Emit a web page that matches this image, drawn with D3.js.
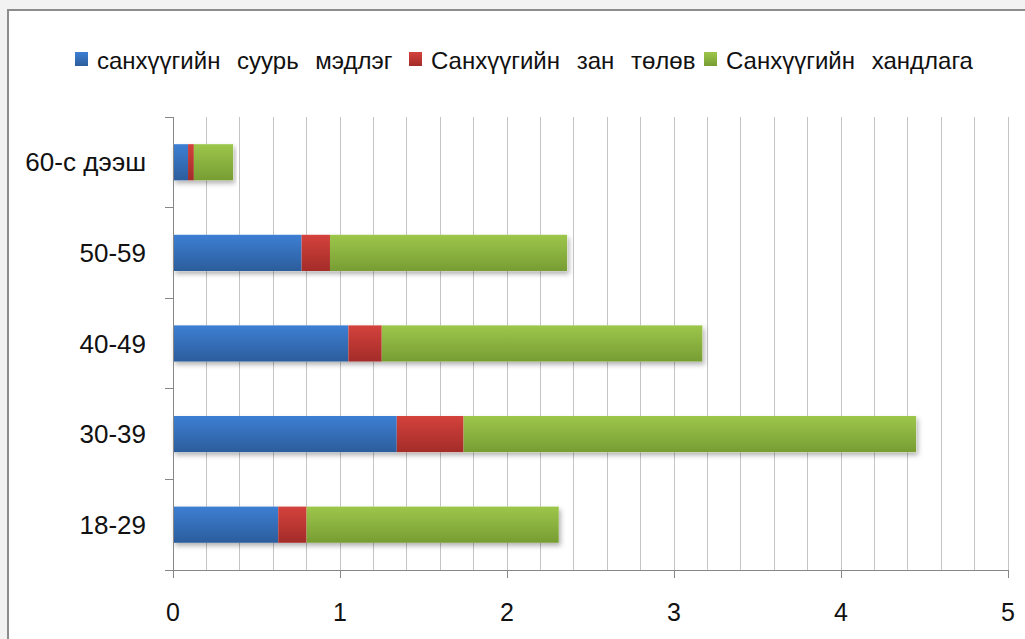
<!DOCTYPE html>
<html lang="mn">
<head>
<meta charset="utf-8">
<title>Stacked bar</title>
<script src="https://cdn.jsdelivr.net/npm/d3@7"></script>
<style>
  body { margin: 0; background: #f2f2f2; }
  svg { display: block; }
  text { font-family: "Liberation Sans", Arial, sans-serif; fill: #111; }
</style>
</head>
<body>
<script>
// data
var ageGroups = ["18-29", "30-39", "40-49", "50-59", "60-с дээш"];
var seriesNames = ["санхүүгийн суурь мэдлэг", "Санхүүгийн зан төлөв", "Санхүүгийн хандлага"];
var knowledge = [0.63, 1.34, 1.05, 0.77, 0.09];
var behaviour = [0.17, 0.40, 0.20, 0.17, 0.035];
var attitude  = [1.51, 2.71, 1.92, 1.42, 0.235];
var xTicks = [0, 1, 2, 3, 4, 5];

var colors = [
  ["#3d7fd3", "#2c5d9c"],
  ["#d4423c", "#a32c29"],
  ["#9dc64b", "#779d33"]
];

var W = 1025, H = 639;
var svg = d3.select("body").append("svg").attr("width", W).attr("height", H);

var defs = svg.append("defs");
colors.forEach(function(c, i) {
  var g = defs.append("linearGradient").attr("id", "g" + i)
    .attr("x1", 0).attr("y1", 0).attr("x2", 0).attr("y2", 1);
  g.append("stop").attr("offset", "0%").attr("stop-color", c[0]);
  g.append("stop").attr("offset", "100%").attr("stop-color", c[1]);
});
var f = defs.append("filter").attr("id", "shadow")
  .attr("x", "-5%").attr("y", "-20%").attr("width", "110%").attr("height", "160%");
f.append("feDropShadow").attr("dx", 2).attr("dy", 3).attr("stdDeviation", 2.5)
  .attr("flood-color", "#000").attr("flood-opacity", 0.3);

// chart panel
svg.append("rect").attr("x", 8).attr("y", 10).attr("width", W).attr("height", H)
  .attr("fill", "#fff").attr("stroke", "#8c8c8c").attr("stroke-width", 2);

var plotLeft = 173, plotRight = 1008, plotTop = 117, plotBottom = 570;

var x = d3.scaleLinear().domain([0, 5]).range([plotLeft, plotRight]);
var y = d3.scaleBand().domain(ageGroups.slice().reverse()).range([plotTop, plotBottom])
  .paddingInner(0.6).paddingOuter(0.3);

// gridlines every 0.2
svg.append("g").selectAll("line").data(d3.range(1, 26).map(function(d) { return d / 5; }))
  .enter().append("line")
  .attr("x1", function(d) { return x(d); }).attr("x2", function(d) { return x(d); })
  .attr("y1", plotTop).attr("y2", plotBottom)
  .attr("stroke", "#c4c4c4").attr("stroke-width", 1).attr("shape-rendering", "crispEdges");

// stacked bars
var rows = ageGroups.map(function(a, i) {
  return { age: a, s0: knowledge[i], s1: behaviour[i], s2: attitude[i] };
});
var stack = d3.stack().keys(["s0", "s1", "s2"])(rows);

var barG = svg.append("g");
rows.forEach(function(r) {
  var total = r.s0 + r.s1 + r.s2;
  barG.append("rect")
    .attr("x", x(0)).attr("y", y(r.age))
    .attr("width", x(total) - x(0)).attr("height", y.bandwidth())
    .attr("fill", "#fff").attr("filter", "url(#shadow)");
});
stack.forEach(function(layer, k) {
  barG.selectAll(".l" + k).data(layer).enter().append("rect")
    .attr("x", function(d) { return x(d[0]); })
    .attr("y", function(d) { return y(d.data.age); })
    .attr("width", function(d) { return x(d[1]) - x(d[0]); })
    .attr("height", y.bandwidth())
    .attr("fill", "url(#g" + k + ")");
});

// axes
var axisColor = "#878787";
svg.append("line").attr("x1", plotLeft).attr("x2", plotLeft).attr("y1", plotTop).attr("y2", plotBottom)
  .attr("stroke", axisColor).attr("shape-rendering", "crispEdges");
svg.append("line").attr("x1", plotLeft).attr("x2", plotRight).attr("y1", plotBottom).attr("y2", plotBottom)
  .attr("stroke", axisColor).attr("shape-rendering", "crispEdges");

// y ticks at band boundaries
var step = y.step();
var firstBound = y(ageGroups[ageGroups.length - 1]) - (step - y.bandwidth()) / 2;
var bounds = d3.range(0, 6).map(function(i) { return firstBound + i * step; });
svg.append("g").selectAll("line").data(bounds).enter().append("line")
  .attr("x1", plotLeft - 8).attr("x2", plotLeft)
  .attr("y1", function(d) { return d; }).attr("y2", function(d) { return d; })
  .attr("stroke", axisColor).attr("shape-rendering", "crispEdges");

svg.append("g").selectAll("text").data(ageGroups).enter().append("text")
  .attr("x", 146).attr("y", function(d) { return y(d) + y.bandwidth() / 2; })
  .attr("dy", "0.35em").attr("text-anchor", "end").attr("font-size", 26)
  .text(function(d) { return d; });

// x ticks
svg.append("g").selectAll("line").data(xTicks).enter().append("line")
  .attr("x1", function(d) { return x(d); }).attr("x2", function(d) { return x(d); })
  .attr("y1", plotBottom).attr("y2", plotBottom + 8)
  .attr("stroke", axisColor).attr("shape-rendering", "crispEdges");
svg.append("g").selectAll("text").data(xTicks).enter().append("text")
  .attr("x", function(d) { return x(d); }).attr("y", 621)
  .attr("text-anchor", "middle").attr("font-size", 25)
  .text(function(d) { return d; });

// legend
var legendX = [75, 409, 704];
var lg = svg.append("g");
seriesNames.forEach(function(n, i) {
  lg.append("rect").attr("x", legendX[i]).attr("y", 52).attr("width", 13).attr("height", 14)
    .attr("fill", "url(#g" + i + ")");
  lg.append("text").attr("x", legendX[i] + 22).attr("y", 61).attr("dy", "0.35em")
    .attr("font-size", 24).attr("word-spacing", 10).text(n);
});
</script>
</body>
</html>
